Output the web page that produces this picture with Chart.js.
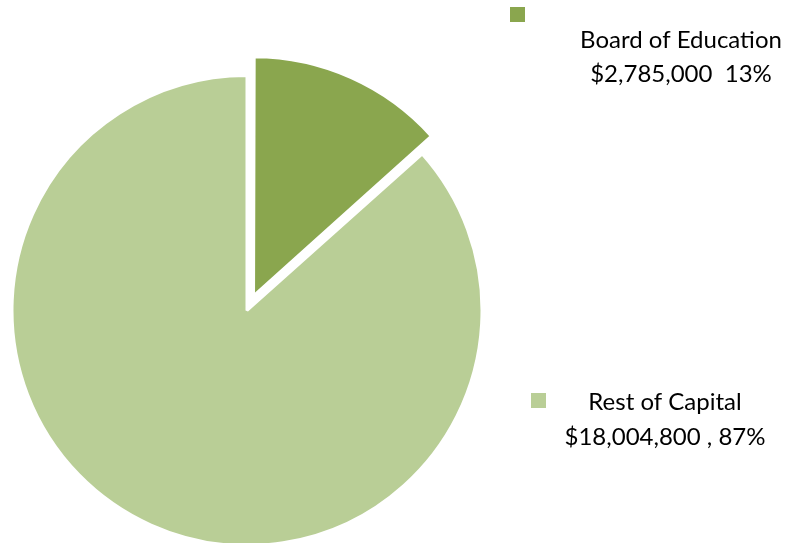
<!DOCTYPE html>
<html>
<head>
<meta charset="utf-8">
<script src="https://cdn.jsdelivr.net/npm/chart.js@4.4.1/dist/chart.umd.min.js"></script>
<style>
  html, body { margin: 0; padding: 0; background: #fff; }
  #wrap { width: 791px; height: 543px; position: relative; }
</style>
</head>
<body>
<div id="wrap"><canvas id="pie" width="791" height="543"></canvas></div>
<script>
// capital budget split
const categories = ["Board of Education", "Rest of Capital"];
const amounts = [2785000, 18004800];
const percents = [13, 87];
const separators = ["  ", " , "];
const colors = ["#8aa64e", "#b9ce96"];

// where each legend entry sits (square + two centred text lines)
const legendPos = [
  { sq: [510, 7], x: 681, y1: 40, y2: 74 },
  { sq: [531, 393], x: 665, y1: 402, y2: 437 },
];

function money(v) {
  return "$" + v.toLocaleString("en-US");
}

const sideLabels = {
  id: "sideLabels",
  afterDraw(chart) {
    const ctx = chart.ctx;
    ctx.save();
    ctx.textAlign = "center";
    ctx.textBaseline = "middle";
    ctx.font = "24px Lato, 'Open Sans', sans-serif";
    categories.forEach((name, i) => {
      const p = legendPos[i];
      ctx.fillStyle = colors[i];
      ctx.fillRect(p.sq[0], p.sq[1], 15, 15);
      ctx.fillStyle = "#000";
      ctx.fillText(name, p.x, p.y1);
      ctx.fillText(money(amounts[i]) + separators[i] + percents[i] + "%", p.x, p.y2);
    });
    ctx.restore();
  },
};

new Chart(document.getElementById("pie"), {
  type: "pie",
  data: {
    labels: categories,
    datasets: [{
      data: amounts,
      backgroundColor: colors,
      borderColor: "#ffffff",
      borderWidth: 3,
      offset: [64, 0],
      clip: false,
    }],
  },
  options: {
    responsive: false,
    animation: false,
    radius: 235,
    layout: { padding: { left: 0, right: 297, top: 78, bottom: 0 } },
    plugins: { legend: { display: false }, tooltip: { enabled: false } },
  },
  plugins: [sideLabels],
});
</script>
</body>
</html>
